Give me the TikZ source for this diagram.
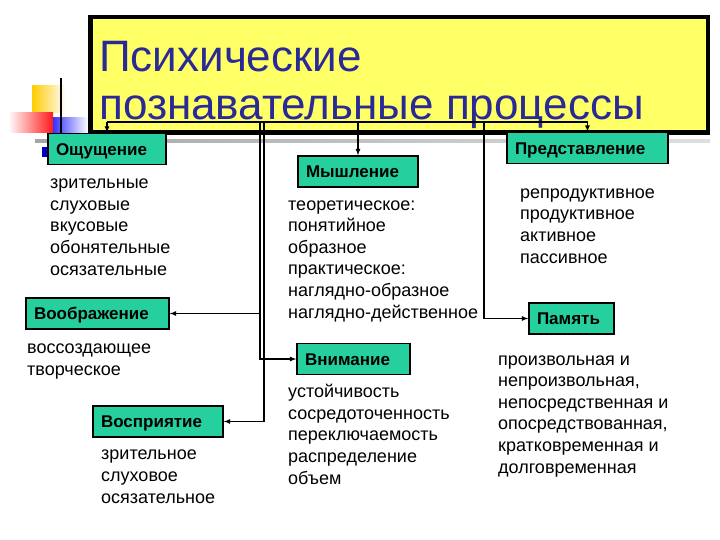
\documentclass[tikz,border=0pt]{standalone}
\usepackage{fontspec}
\setmainfont{Liberation Sans}
\usepackage{tikz}
\usetikzlibrary{calc}

\definecolor{boxgreen}{RGB}{38,208,158}
\definecolor{titleyellow}{RGB}{255,255,102}
\definecolor{titleblue}{RGB}{42,42,150}

\tikzset{
	pbox/.style={draw, line width=1.4pt, fill=boxgreen, inner xsep=8pt, inner ysep=0pt,
		minimum height=31pt, text height=12.2pt, text depth=0pt, align=left,
		font=\bfseries\fontsize{17}{19}\selectfont},
	plist/.style={anchor=base west, inner sep=0pt, align=left,
		font=\fontsize{18}{21.6}\selectfont},
	conn/.style={line width=1.2pt},
}

\begin{document}
\begin{tikzpicture}[x=1pt, y=-1pt, >=latex]
	
	\useasboundingbox (0,0) rectangle (720,540);
	
	% template decoration
	\shade[left color=orange!40!yellow, right color=white] (32,86) rectangle (66,113);
	\shade[left color=white, right color=red!90] (8,113) rectangle (53,133);
	\shade[left color=blue!80, right color=white] (53,118) rectangle (88,133);
	\draw[line width=1.2pt] (61,78) -- (61,143);
	\shade[left color=gray!70, right color=gray!25] (35,139.5) rectangle (710,142.5);
	\fill[blue!75!black] (42,147) rectangle (48,157);
	
	% title (base = last line)
	\draw[line width=4.5pt, fill=titleyellow] (90.25,17.25) rectangle (707.75,132.75);
	\node[plist, text=titleblue, font=\fontsize{44}{48}\selectfont] (title) at (99,120)
	{Психические\\познавательные процессы};
	
	\node[pbox, text width=102pt] (sens) at (107,149) {Ощущение};
	\node[pbox, text width=145pt] (pred) at (587.5,148) {Представление};
	\node[pbox, text width=104pt] (think) at (358,171.5) {Мышление};
	\node[pbox, text width=127pt] (imag) at (97.5,313.5) {Воображение};
	\node[pbox, text width=97pt] (att) at (353.5,359) {Внимание};
	\node[pbox, text width=114pt] (perc) at (158,421.5) {Восприятие};
	\node[pbox, text width=69pt] (mem) at (571.5,318.5) {Память};
	
	\node[plist] (sensl) at (50,275)
	{зрительные\\слуховые\\вкусовые\\обонятельные\\осязательные};
	\node[plist] (thinkl) at (288,318)
	{теоретическое:\\понятийное\\образное\\практическое:\\наглядно-образное\\наглядно-действенное};
	\node[plist] (predl) at (520,263)
	{репродуктивное\\продуктивное\\активное\\пассивное};
	\node[plist] (imagl) at (27,375) {воссоздающее\\творческое};
	\node[plist] (attl) at (288,484)
	{устойчивость\\сосредоточенность\\переключаемость\\распределение\\объем};
	\node[plist] (percl) at (101,503) {зрительное\\слуховое\\осязательное};
	\node[plist] (meml) at (498,473)
	{произвольная и\\непроизвольная,\\непосредственная и\\опосредствованная,\\кратковременная и\\долговременная};
	
	\coordinate (busL) at (107,122);
	\coordinate (busR) at (587.5,122);
	\coordinate (spA) at (260,122);
	\coordinate (spB) at (264,122);
	\coordinate (spC) at (484,122);
	
	\draw[conn] (busL) -- (busR);
	\draw[conn, ->] (busL) -- (sens);
	\draw[conn, ->] (busR) -- (pred);
	\draw[conn, ->] (think.north |- busL) -- (think);
	\draw[conn, ->] (spA) |- (att);
	\draw[conn, ->] (spB) |- (perc);
	\draw[conn, ->] (spA |- imag) -- (imag);
	\draw[conn, ->] (spC) |- (mem);
	
\end{tikzpicture}
\end{document}
